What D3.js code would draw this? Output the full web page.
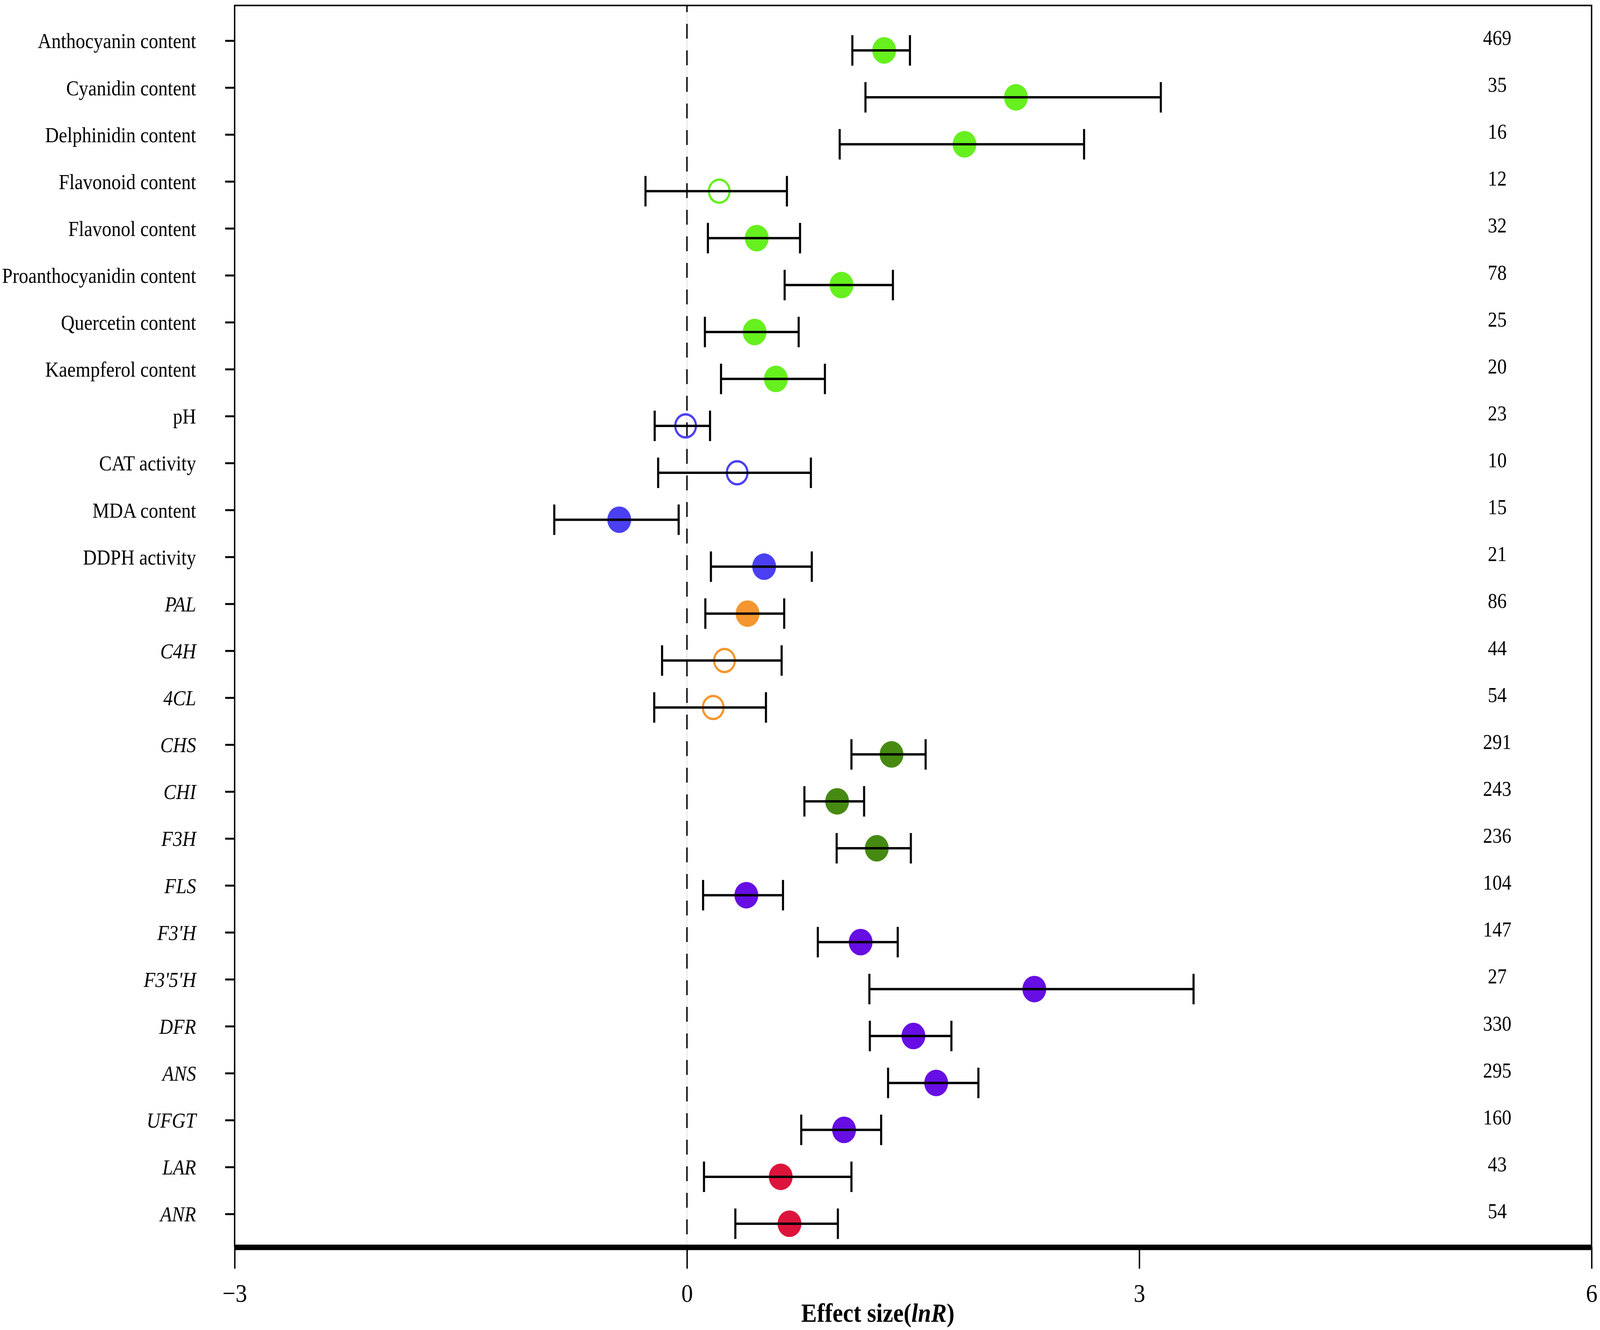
<!DOCTYPE html>
<html>
<head>
<meta charset="utf-8">
<script src="https://cdn.jsdelivr.net/npm/d3@7"></script>
<style>
  html, body { margin: 0; padding: 0; background: #ffffff; overflow: hidden; }
  svg { display: block; width: 100vw; height: 100vh; }
</style>
</head>
<body>
<script>
// ---------------- data ----------------
const categories = ["Anthocyanin content","Cyanidin content","Delphinidin content","Flavonoid content","Flavonol content","Proanthocyanidin content","Quercetin content","Kaempferol content","pH","CAT activity","MDA content","DDPH activity","PAL","C4H","4CL","CHS","CHI","F3H","FLS","F3'H","F3'5'H","DFR","ANS","UFGT","LAR","ANR"];
const effect   = [1.308,2.182,1.841,0.214,0.463,1.025,0.449,0.590,-0.009,0.333,-0.449,0.512,0.402,0.249,0.174,1.357,0.996,1.259,0.394,1.152,2.304,1.502,1.653,1.042,0.622,0.680];
const ciLower  = [1.097,1.184,1.013,-0.275,0.139,0.648,0.119,0.226,-0.214,-0.191,-0.880,0.159,0.122,-0.165,-0.217,1.091,0.779,0.993,0.107,0.868,1.210,1.213,1.334,0.758,0.113,0.321];
const ciUpper  = [1.479,3.143,2.634,0.663,0.750,1.366,0.741,0.915,0.153,0.822,-0.055,0.828,0.645,0.628,0.524,1.583,1.175,1.485,0.637,1.398,3.360,1.754,1.933,1.288,1.091,1.001];
const sampleN  = [469,35,16,12,32,78,25,20,23,10,15,21,86,44,54,291,243,236,104,147,27,330,295,160,43,54];
const groups   = ["flav","flav","flav","flav","flav","flav","flav","flav","anti","anti","anti","anti","phen","phen","phen","early","early","early","late","late","late","late","late","late","pa","pa"];
const filled   = [1,1,1,0,1,1,1,1,0,0,1,1,1,0,0,1,1,1,1,1,1,1,1,1,1,1];
const italicLabel = [0,0,0,0,0,0,0,0,0,0,0,0,1,1,1,1,1,1,1,1,1,1,1,1,1,1];
const xTicks = [-3, 0, 3, 6];
const groupColors = {flav:"#66F01E", anti:"#4B3FF2", phen:"#F5962E", early:"#468A12", late:"#660EE4", pa:"#DC143C"};

(function draw() {
const rows = categories.map((c, i) => ({
  cat: c, est: effect[i], lo: ciLower[i], hi: ciUpper[i], n: sampleN[i],
  color: groupColors[groups[i]], filled: filled[i] === 1, italic: italicLabel[i] === 1
}));

// ---------------- layout ----------------
const W = 4562, H = 3404;
const plotL = 669, plotR = 4538, plotT = 14, axisY = 3192;
const serif = "'Liberation Serif','Times New Roman',Times,serif";

const svg = d3.select("body").append("svg")
  .attr("viewBox", `0 0 ${W} ${H}`)
  .attr("preserveAspectRatio", "none");
svg.append("rect").attr("width", W).attr("height", H).attr("fill", "#ffffff");

const x = d3.scaleLinear().domain([-3, 6]).range([plotL, plotR]);
const yTick = d3.scalePoint().domain(categories).range([104, 3107]);
const pointOffset = 25;
const yPt = c => yTick(c) + pointOffset;

// frame (top, left, right)
svg.append("path")
  .attr("d", `M${plotL},${axisY} L${plotL},${plotT} L${plotR},${plotT} L${plotR},${axisY}`)
  .attr("fill", "none").attr("stroke", "#000").attr("stroke-width", 4);

// zero reference line (faint continuous + dashed)
svg.append("line")
  .attr("x1", x(0)).attr("x2", x(0)).attr("y1", plotT).attr("y2", axisY)
  .attr("stroke", "#dcdcdc").attr("stroke-width", 2);
svg.append("line")
  .attr("x1", x(0)).attr("x2", x(0)).attr("y1", plotT).attr("y2", axisY)
  .attr("stroke", "#000").attr("stroke-width", 4)
  .attr("stroke-dasharray", "38,30").attr("stroke-dashoffset", 21);

// left axis (ticks + labels)
const yAxis = svg.append("g")
  .attr("transform", `translate(${plotL},0)`)
  .call(d3.axisLeft(yTick).tickSize(27).tickPadding(83).tickSizeOuter(0));
yAxis.select(".domain").remove();
yAxis.selectAll(".tick line").attr("stroke", "#000").attr("stroke-width", 5);
yAxis.selectAll(".tick text")
  .attr("font-family", serif).attr("font-size", 54).attr("fill", "#000")
  .attr("dy", "0.35em")
  .attr("font-style", (d, i) => rows[i].italic ? "italic" : "normal");

// bottom axis
const xAxis = svg.append("g")
  .attr("transform", `translate(0,${axisY})`)
  .call(d3.axisBottom(x).tickValues(xTicks).tickSize(55).tickSizeOuter(0)
    .tickFormat(d => d < 0 ? "\u2212" + Math.abs(d) : String(d)));
xAxis.select(".domain").attr("stroke", "#000").attr("stroke-width", 14);
xAxis.selectAll(".tick line").attr("stroke", "#000").attr("stroke-width", 4);
xAxis.selectAll(".tick text")
  .attr("font-family", serif).attr("font-size", 66).attr("fill", "#000")
  .attr("y", 140).attr("dy", 0);

// axis title
const title = svg.append("text")
  .attr("x", 2503).attr("y", 3383)
  .attr("text-anchor", "middle")
  .attr("font-family", serif).attr("font-size", 67).attr("font-weight", "bold")
  .attr("fill", "#000");
title.append("tspan").text("Effect size(");
title.append("tspan").attr("font-style", "italic").text("lnR");
title.append("tspan").text(")");

// points
const pts = svg.append("g");
pts.selectAll("circle").data(rows).join("circle")
  .attr("cx", d => x(d.est)).attr("cy", d => yPt(d.cat))
  .attr("r", d => d.filled ? 34 : 29.5)
  .attr("fill", d => d.filled ? d.color : "none")
  .attr("stroke", d => d.filled ? "none" : d.color)
  .attr("stroke-width", d => d.filled ? 0 : 6);

// error bars (drawn over points)
const bars = svg.append("g").attr("stroke", "#000").attr("stroke-width", 6);
bars.selectAll("line.ci").data(rows).join("line").attr("class", "ci")
  .attr("x1", d => x(d.lo)).attr("x2", d => x(d.hi))
  .attr("y1", d => yPt(d.cat)).attr("y2", d => yPt(d.cat));
bars.selectAll("line.capL").data(rows).join("line").attr("class", "capL")
  .attr("x1", d => x(d.lo)).attr("x2", d => x(d.lo))
  .attr("y1", d => yPt(d.cat) - 39).attr("y2", d => yPt(d.cat) + 39);
bars.selectAll("line.capR").data(rows).join("line").attr("class", "capR")
  .attr("x1", d => x(d.hi)).attr("x2", d => x(d.hi))
  .attr("y1", d => yPt(d.cat) - 39).attr("y2", d => yPt(d.cat) + 39);

// sample sizes on the right
svg.append("g").selectAll("text").data(rows).join("text")
  .attr("x", 4269).attr("y", d => yTick(d.cat) + 11)
  .attr("text-anchor", "middle")
  .attr("font-family", serif).attr("font-size", 54).attr("fill", "#000")
  .text(d => d.n);
})();
</script>
</body>
</html>
